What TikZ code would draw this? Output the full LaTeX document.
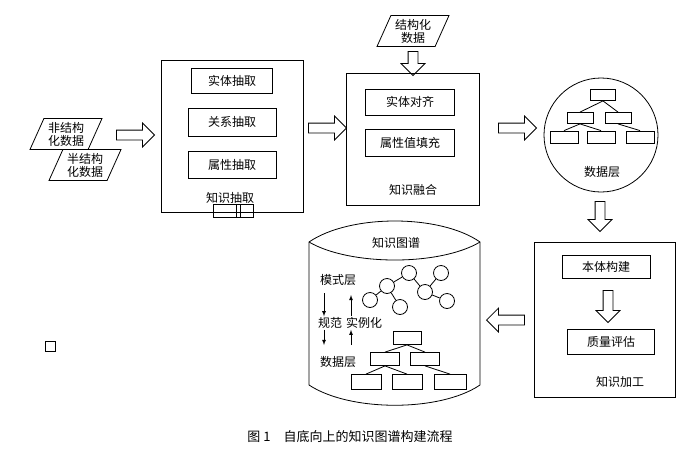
\documentclass[tikz,border=0pt]{standalone}
\usepackage{fontspec}
\newfontfamily\cjk{Noto Sans CJK SC}
\usetikzlibrary{shapes.geometric,shapes.arrows}

\tikzset{
  box/.style={draw, thick, inner sep=0pt},
  sub/.style={draw, thick, minimum height=25pt, font=\cjk\fontsize{12}{14}\selectfont},
  lbl/.style={font=\cjk\fontsize{12}{14}\selectfont},
  data/.style={draw, thick, trapezium, trapezium stretches body, trapezium left angle=60, trapezium right angle=120,
    font=\cjk\fontsize{12}{13}\selectfont, align=center, inner sep=0pt, minimum width=72pt, minimum height=31pt},
  fatarrow/.style={draw, thick, single arrow, minimum height=38pt, inner sep=4.5pt,
    single arrow head extend=7pt},
  leaf/.style={draw, thick, minimum width=28pt, minimum height=13pt, inner sep=0pt},
  ball/.style={draw, thick, circle, minimum size=15pt, inner sep=0pt},
}

\begin{document}
\begin{tikzpicture}[x=1pt,y=-1pt]
    \useasboundingbox (0,0) rectangle (700,453);

    % Sources
    \node[data] (unstr) at (66,134) {非结构\\化数据};
    \node[data, fill=white] (semi) at (85,165) {半结构\\化数据};
    \node[data] (struct) at (413,31) {结构化\\数据};

    % Knowledge extraction
    \node[box, minimum width=142pt, minimum height=152pt] (extract) at (232,136) {};
    \node[sub, minimum width=81pt] (ent) at (232,81) {实体抽取};
    \node[sub, minimum width=88pt, minimum height=28pt] (rel) at (232,122) {关系抽取};
    \node[sub, minimum width=88pt, minimum height=27pt] (attr) at (232,165) {属性抽取};
    \node[lbl] (extractlbl) at (230,198) {知识抽取};
    \draw[thick] (213,204) rectangle (253,217);
    \draw[thick] (236,204) -- (236,217);
    \draw[thick] (240,204) -- (240,217);

    % Knowledge fusion
    \node[box, minimum width=133pt, minimum height=132pt] (fusion) at (413,139) {};
    \node[sub, minimum width=89pt, minimum height=26pt] (align) at (410,102) {实体对齐};
    \node[sub, minimum width=89pt, minimum height=27pt] (fill) at (410,143) {属性值填充};
    \node[lbl] (fusionlbl) at (413,190) {知识融合};

    % Data layer
    \node[draw, thick, circle, minimum size=114pt] (layer) at (601,135) {};
    \node[leaf, minimum width=25pt, minimum height=11pt] (t0) at (603,95) {};
    \node[leaf, minimum width=26pt, minimum height=11pt] (t1) at (580,118) {};
    \node[leaf, minimum width=26pt, minimum height=11pt] (t2) at (618,118) {};
    \node[leaf, minimum height=12pt] (t3) at (564,137) {};
    \node[leaf, minimum height=12pt] (t4) at (601,137) {};
    \node[leaf, minimum height=12pt] (t5) at (640,137) {};
    \draw[thick] (t0.south) -- (t1.north) (t0.south) -- (t2.north)
      (t1.south) -- (t3.north) (t1.south) -- (t4.north)
      (t2.south) -- (t5.north);
    \node[lbl] (layerlbl) at (602,172) {数据层};

    % Knowledge processing
    \node[box, minimum width=141pt, minimum height=155pt] (process) at (605,320) {};
    \node[sub, minimum width=88pt, minimum height=23pt] (onto) at (606,267) {本体构建};
    \node[sub, minimum width=87pt, minimum height=25pt] (qual) at (611,342) {质量评估};
    \node[lbl] (processlbl) at (620,382) {知识加工};

    % Knowledge graph
    \draw[thick] (309,242) .. controls (350,214) and (440,214) .. (480,242)
      -- (480,385) .. controls (440,412) and (350,412) .. (309,385) -- cycle;
    \draw[thick] (309,242) .. controls (350,266) and (440,266) .. (480,242);
    \node[lbl] (kg) at (396,243) {知识图谱};
    \node[lbl] (schema) at (338,280) {模式层};
    \node[lbl] (inst) at (338,362) {数据层};
    \node[lbl, inner sep=1pt] (norm) at (330,323) {规范};
    \node[lbl, inner sep=1pt] (exm) at (364,323) {实例化};
    \draw[thick, -latex] (324,293) -- (norm.north -| 324,0);
    \draw[thick, -latex] (norm.south -| 324,0) -- (324,345);
    \draw[thick, -latex] (351,345) -- (exm.south -| 351,0);
    \draw[thick, -latex] (exm.north -| 351,0) -- (351,295);
    \node[ball] (g1) at (370,300) {};
    \node[ball] (g2) at (387,286) {};
    \node[ball] (g3) at (409,273) {};
    \node[ball] (g4) at (425,292) {};
    \node[ball] (g5) at (441,273) {};
    \node[ball] (g6) at (447,301) {};
    \node[ball] (g7) at (400,307) {};
    \draw[thick] (g1) -- (g2) -- (g3) -- (g4) -- (g5) (g4) -- (g6) (g2) -- (g7);
    \node[leaf] (k0) at (407,338) {};
    \node[leaf, minimum width=29pt] (k1) at (385,359) {};
    \node[leaf, minimum width=29pt] (k2) at (425,359) {};
    \node[leaf, minimum width=30pt, minimum height=15pt] (k3) at (366,382) {};
    \node[leaf, minimum width=30pt, minimum height=15pt] (k4) at (407,382) {};
    \node[leaf, minimum width=32pt, minimum height=15pt] (k5) at (450,382) {};
    \draw[thick] (k0.south) -- (k1.north) (k0.south) -- (k2.north)
      (k1.south) -- (k3.north) (k1.south) -- (k4.north) (k2.south) -- (k5.north);

    % Flow arrows
    \node[fatarrow] (a1) at (133,135) {};
    \node[fatarrow] (a2) at (325,128) {};
    \node[fatarrow, minimum height=24pt, rotate=-90] (a3) at (413,61) {};
    \node[fatarrow] (a4) at (515,128) {};
    \node[fatarrow, minimum height=30pt, rotate=-90] (a5) at (600,214) {};
    \node[fatarrow, minimum height=32pt, rotate=-90] (a6) at (608,304) {};
    \node[fatarrow, rotate=180] (a7) at (508,320) {};

    % Stray mark and caption
    \draw[thick] (45,341) rectangle (55,351);
    \node[font=\cjk\fontsize{13}{15}\selectfont] (caption) at (350,437) {图 1\quad 自底向上的知识图谱构建流程};
\end{tikzpicture}
\end{document}
